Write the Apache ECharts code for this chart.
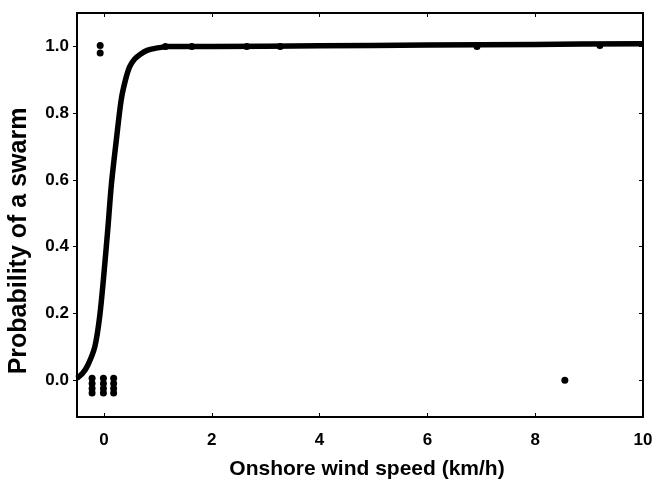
<!DOCTYPE html>
<html>
<head>
<meta charset="utf-8">
<script src="https://cdn.jsdelivr.net/npm/echarts@6/dist/echarts.min.js"></script>
<style>
  html, body { margin: 0; padding: 0; background: #fff; }
  #main { width: 656px; height: 483px; }
</style>
</head>
<body>
<div id="main"></div>
<script>
// fitted curve
var curveX = [-0.5, -0.4, -0.3, -0.17, -0.08, 0, 0.075, 0.14, 0.23, 0.32, 0.4, 0.48, 0.57, 0.67, 0.8, 0.95, 1.2, 2, 4, 6, 8, 10];
var curveY = [0.006, 0.02, 0.045, 0.10, 0.19, 0.32, 0.46, 0.59, 0.72, 0.84, 0.9, 0.94, 0.962, 0.976, 0.988, 0.994, 1.0, 1.0, 1.002, 1.004, 1.006, 1.008];

// observations (jittered in the original)
var obsX = [-0.22, -0.22, -0.22, -0.22, -0.01, -0.01, -0.01, -0.01, 0.18, 0.18, 0.18, 0.18,
            -0.07, -0.07, 1.14, 1.63, 2.65, 3.27, 6.92, 9.2, 8.55];
var obsY = [0.006, -0.01, -0.025, -0.038, 0.006, -0.01, -0.025, -0.038, 0.006, -0.01, -0.025, -0.038,
            1.003, 0.98, 1.0, 1.0, 1.0, 1.0, 1.0, 1.003, 0.0];

var xTicks = [0, 2, 4, 6, 8, 10];
var yTicks = [0, 0.2, 0.4, 0.6, 0.8, 1.0];

var chart = echarts.init(document.getElementById('main'));

var fam = 'Liberation Sans, Arial, sans-serif';
var labelFont = { color: '#000', fontFamily: fam, fontWeight: 'bold', fontSize: 17 };
var lineSty = { color: '#000', width: 2 };

var option = {
  animation: false,
  backgroundColor: '#fff',
  grid: { left: 77, right: 13, top: 13, bottom: 66, outerBoundsMode: 'none', containLabel: false },
  xAxis: [
    {
      type: 'value', min: -0.5, max: 10, position: 'bottom',
      axisLine: { show: true, onZero: false, lineStyle: lineSty },
      axisTick: { show: true, inside: true, length: 4, customValues: xTicks, lineStyle: { color: '#000' } },
      axisLabel: Object.assign({ customValues: xTicks, margin: 15, formatter: function (v) { return String(v); } }, labelFont),
      splitLine: { show: false },
      name: 'Onshore wind speed (km/h)',
      nameLocation: 'middle', nameGap: 42,
      nameTextStyle: { color: '#000', fontFamily: fam, fontWeight: 'bold', fontSize: 21, padding: [0, 0, 0, 14] }
    },
    {
      type: 'value', min: -0.5, max: 10, position: 'top',
      axisLine: { show: true, onZero: false, lineStyle: lineSty },
      axisTick: { show: true, inside: true, length: 4, customValues: xTicks, lineStyle: { color: '#000' } },
      axisLabel: { show: false },
      splitLine: { show: false }
    }
  ],
  yAxis: [
    {
      type: 'value', min: -0.11, max: 1.1, position: 'left',
      axisLine: { show: true, onZero: false, lineStyle: lineSty },
      axisTick: { show: true, inside: false, length: 4, customValues: yTicks, lineStyle: { color: '#000' } },
      axisLabel: Object.assign({ customValues: yTicks, margin: 8, formatter: function (v) { return v.toFixed(1); } }, labelFont),
      splitLine: { show: false },
      name: 'Probability of a swarm',
      nameLocation: 'middle', nameGap: 45,
      nameTextStyle: { color: '#000', fontFamily: fam, fontWeight: 'bold', fontSize: 25, padding: [0, 52, 0, 0] }
    },
    {
      type: 'value', min: -0.11, max: 1.1, position: 'right',
      axisLine: { show: true, onZero: false, lineStyle: lineSty },
      axisTick: { show: true, inside: true, length: 4, customValues: yTicks, lineStyle: { color: '#000' } },
      axisLabel: { show: false },
      splitLine: { show: false }
    }
  ],
  series: [
    {
      type: 'line',
      smooth: 0.3,
      showSymbol: false,
      data: curveX.map(function (x, i) { return [x, curveY[i]]; }),
      lineStyle: { color: '#000', width: 5.5 },
      z: 2
    },
    {
      type: 'scatter',
      symbol: 'circle',
      symbolSize: 7,
      data: obsX.map(function (x, i) { return [x, obsY[i]]; }),
      itemStyle: { color: '#000', opacity: 1 },
      z: 3
    }
  ]
};

chart.clear();
chart.setOption(option);
</script>
</body>
</html>
